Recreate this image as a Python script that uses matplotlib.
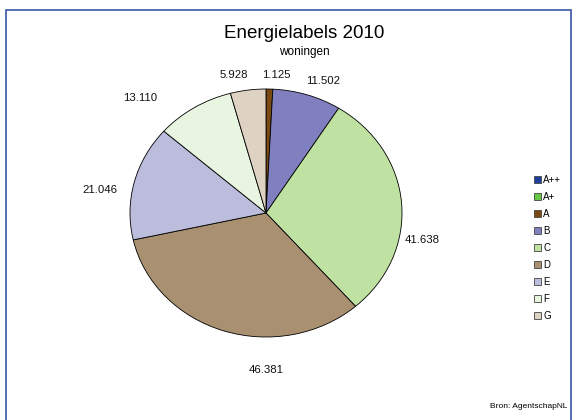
import matplotlib
matplotlib.use("Agg")
import matplotlib.pyplot as plt
from matplotlib.patches import Patch, Rectangle

plt.rcParams['font.family'] = ['Liberation Sans', 'DejaVu Sans']

categories = ["A++", "A+", "A", "B", "C", "D", "E", "F", "G"]
values = [0, 0, 1125, 11502, 41638, 46381, 21046, 13110, 5928]
colors = ["#1f3f9a", "#66c844", "#7a4a12", "#8080c0", "#bfe2a2",
          "#a89070", "#bcbcdc", "#e8f5e0", "#ded2c2"]
title = "Energielabels 2010"
subtitle = "woningen"
source = "Bron: AgentschapNL"

# label anchor positions (in pie-radius units), as placed in the reference
label_xy = [None, None, (0.074, 1.113), (0.419, 1.065), (1.147, -0.218),
            (0.0, -1.266), (-1.221, 0.185), (-0.926, 0.927), (-0.235, 1.113)]

def fmt(v):
    return f"{v:,}".replace(",", ".") if v else ""

fig = plt.figure(figsize=(5.76, 4.2), dpi=100)

# outer frame
fig.patches.append(Rectangle((6 / 576, -0.05), (571 - 6) / 576, 1.05 - 10 / 420,
                             transform=fig.transFigure, fill=False,
                             edgecolor="#3a55a8", linewidth=1.2))

# the reference pie is slightly squashed vertically
rx, ry = 136.0, 124.0
cx, cy = 266.0, 420 - 213.0
lim = 1.5
ax = fig.add_axes([(cx - rx * lim) / 576, (cy - ry * lim) / 420,
                   2 * rx * lim / 576, 2 * ry * lim / 420])
wedges, _ = ax.pie(values, colors=colors, startangle=90, counterclock=False,
                   wedgeprops=dict(edgecolor="black", linewidth=0.6))
for v, xy in zip(values, label_xy):
    if v and xy is not None:
        ax.text(xy[0], xy[1], fmt(v), ha="center", va="center",
                fontsize=8.2, color="#111111")
ax.set_xlim(-lim, lim)
ax.set_ylim(-lim, lim)
ax.set_aspect("auto")
ax.axis("off")

fig.text(304 / 576, 1 - 33 / 420, title, ha="center", va="center", fontsize=13.5)
fig.text(304 / 576, 1 - 52 / 420, subtitle, ha="center", va="center", fontsize=8.5)
fig.text(567 / 576, 1 - 407 / 420, source, ha="right", va="center", fontsize=6)

handles = [Patch(facecolor=c, edgecolor="#444444", linewidth=0.6) for c in colors]
fig.legend(handles, categories, loc="center left",
           bbox_to_anchor=(534 / 576, 1 - 248 / 420), frameon=False,
           fontsize=7, handlelength=0.75, handleheight=0.75,
           handletextpad=0.2, labelspacing=0.72, borderpad=0, borderaxespad=0)

fig.savefig("out.png", dpi=100)
